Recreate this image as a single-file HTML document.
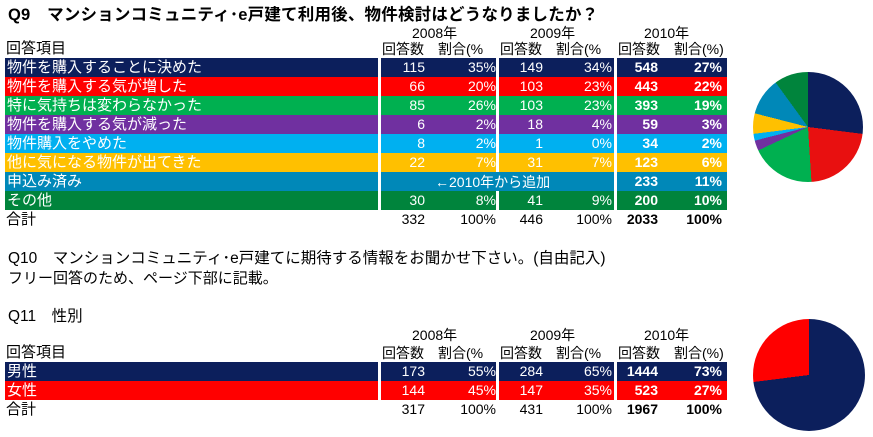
<!DOCTYPE html>
<html><head><meta charset="utf-8"><style>
body{margin:0;width:873px;height:437px;background:#fff;position:relative;overflow:hidden;font-family:"Liberation Sans","Noto Sans CJK JP",sans-serif;font-size:14px;color:#000}
.a{position:absolute;white-space:nowrap;line-height:18px}
.r{position:absolute;height:19px}
.w{color:#fff}
.l{font-size:15px}
.n{position:absolute;text-align:right;line-height:19px;white-space:nowrap}
.b{font-weight:bold}
</style></head><body>
<div class="a b" style="left:8px;top:6px;font-size:16.5px;letter-spacing:0.2px">Q9　マンションコミュニティ･e戸建て利用後、物件検討はどうなりましたか？</div>
<div class="a" style="left:412px;top:24px">2008年</div>
<div class="a" style="left:530px;top:24px">2009年</div>
<div class="a" style="left:644px;top:24px">2010年</div>
<div class="a l" style="left:6px;top:40px">回答項目</div>
<div class="a" style="left:382px;top:40px">回答数　割合(%</div>
<div class="a" style="left:500px;top:40px">回答数　割合(%</div>
<div class="a" style="left:618px;top:40px">回答数　割合(%)</div>
<div id="q9"></div>
<div class="a l" style="left:6px;top:211px">合計</div>
<div class="n" style="left:381px;width:44px;top:210px">332</div><div class="n" style="left:440px;width:56px;top:210px">100%</div>
<div class="n" style="left:499px;width:44px;top:210px">446</div><div class="n" style="left:556px;width:56px;top:210px">100%</div>
<div class="n b" style="left:617px;width:41px;top:210px">2033</div><div class="n b" style="left:670px;width:52px;top:210px">100%</div>
<div style="position:absolute;left:753px;top:72px;width:110px;height:110px;border-radius:50%;background:conic-gradient(#0c1f5c 0 27%,#e81010 27% 49%,#00b050 49% 68%,#7030a0 68% 71%,#00b0f0 71% 73%,#ffc000 73% 79%,#0088b8 79% 90%,#00843c 90% 100%)"></div>

<div class="a" style="left:8px;top:250px;font-size:15.5px">Q10　マンションコミュニティ･e戸建てに期待する情報をお聞かせ下さい。(自由記入)</div>
<div class="a l" style="left:8px;top:270px">フリー回答のため、ページ下部に記載。</div>
<div class="a" style="left:8px;top:308px;font-size:15.5px">Q11　性別</div>
<div class="a" style="left:412px;top:326px">2008年</div>
<div class="a" style="left:530px;top:326px">2009年</div>
<div class="a" style="left:644px;top:326px">2010年</div>
<div class="a l" style="left:6px;top:344px">回答項目</div>
<div class="a" style="left:382px;top:344px">回答数　割合(%</div>
<div class="a" style="left:500px;top:344px">回答数　割合(%</div>
<div class="a" style="left:618px;top:344px">回答数　割合(%)</div>
<div id="q11"></div>
<div class="a l" style="left:6px;top:401px">合計</div>
<div class="n" style="left:381px;width:44px;top:400px">317</div><div class="n" style="left:440px;width:56px;top:400px">100%</div>
<div class="n" style="left:499px;width:44px;top:400px">431</div><div class="n" style="left:556px;width:56px;top:400px">100%</div>
<div class="n b" style="left:617px;width:41px;top:400px">1967</div><div class="n b" style="left:670px;width:52px;top:400px">100%</div>
<div style="position:absolute;left:753px;top:319px;width:112px;height:112px;border-radius:50%;background:conic-gradient(#0c1f5c 0 73%,#ff0000 73% 100%)"></div>
<script>
function rows(id,top,data){var h='';data.forEach(function(d,i){var y=top+i*19;var c=d[1];
h+='<div class="r" style="left:5px;width:373px;top:'+y+'px;background:'+c+'"></div>';
h+='<div class="r" style="left:381px;width:115px;top:'+y+'px;background:'+c+'"></div>';
h+='<div class="r" style="left:499px;width:115px;top:'+y+'px;background:'+c+'"></div>';
h+='<div class="r" style="left:617px;width:110px;top:'+y+'px;background:'+c+'"></div>';
h+='<div class="a w l" style="left:7px;top:'+(y+1)+'px">'+d[0]+'</div>';
if(d[2]===null){h+='<div class="r" style="left:381px;width:233px;top:'+y+'px;background:'+c+'"></div><div class="a w" style="left:435px;top:'+(y+1)+'px">←2010年から追加</div>';}
else{h+='<div class="n w" style="left:381px;width:44px;top:'+y+'px">'+d[2]+'</div><div class="n w" style="left:440px;width:56px;top:'+y+'px">'+d[3]+'</div>';
h+='<div class="n w" style="left:499px;width:44px;top:'+y+'px">'+d[4]+'</div><div class="n w" style="left:556px;width:56px;top:'+y+'px">'+d[5]+'</div>';}
h+='<div class="n w b" style="left:617px;width:41px;top:'+y+'px">'+d[6]+'</div><div class="n w b" style="left:670px;width:52px;top:'+y+'px">'+d[7]+'</div>';
});document.getElementById(id).innerHTML=h;}
rows('q9',58,[
['物件を購入することに決めた','#0c1f5c',115,'35%',149,'34%',548,'27%'],
['物件を購入する気が増した','#ff0000',66,'20%',103,'23%',443,'22%'],
['特に気持ちは変わらなかった','#00b050',85,'26%',103,'23%',393,'19%'],
['物件を購入する気が減った','#7030a0',6,'2%',18,'4%',59,'3%'],
['物件購入をやめた','#00b0f0',8,'2%',1,'0%',34,'2%'],
['他に気になる物件が出てきた','#ffc000',22,'7%',31,'7%',123,'6%'],
['申込み済み','#0088b8',null,null,null,null,233,'11%'],
['その他','#00843c',30,'8%',41,'9%',200,'10%']]);
rows('q11',362,[
['男性','#0c1f5c',173,'55%',284,'65%',1444,'73%'],
['女性','#ff0000',144,'45%',147,'35%',523,'27%']]);
</script>
</body></html>
